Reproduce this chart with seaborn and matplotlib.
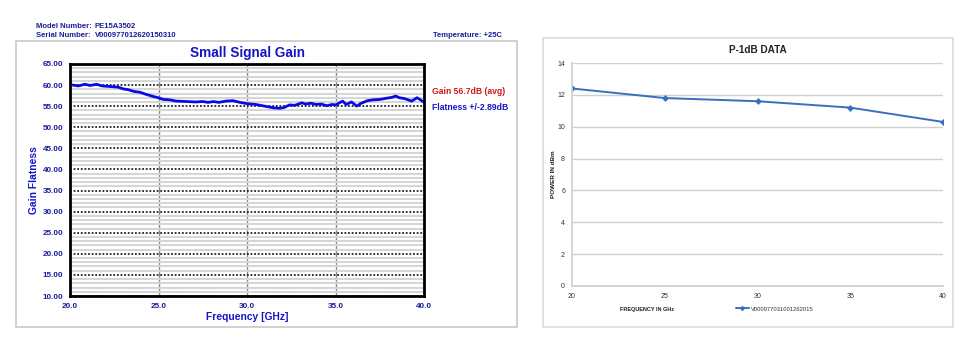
import numpy as np
import pandas as pd
import matplotlib
matplotlib.use("Agg")
import matplotlib.pyplot as plt
from matplotlib.patches import Rectangle
from matplotlib.ticker import MultipleLocator
import seaborn as sns

# ---- data: Small Signal Gain ----
gain_freq = [20.0, 20.47, 20.85, 21.13, 21.5, 21.8, 22.45, 22.73, 23.0, 23.3,
             23.6, 23.95, 24.3, 24.7, 24.98, 25.26, 25.64, 26.0, 26.6, 27.1,
             27.5, 27.8, 28.1, 28.4, 28.8, 29.2, 29.6, 30.0, 30.5, 31.0,
             31.5, 31.85, 32.1, 32.4, 32.7, 33.1, 33.3, 33.6, 33.9, 34.2,
             34.5, 34.8, 35.0, 35.4, 35.6, 35.9, 36.2, 36.4, 36.8, 37.1,
             37.5, 37.9, 38.2, 38.4, 38.6, 38.9, 39.1, 39.3, 39.6, 39.8, 40.0]
gain_db = [60.1, 59.8, 60.2, 59.9, 60.2, 59.8, 59.6, 59.5, 59.1, 58.9,
           58.5, 58.3, 57.8, 57.3, 57.0, 56.6, 56.5, 56.2, 56.1, 56.0,
           56.1, 55.9, 56.1, 55.9, 56.2, 56.3, 55.9, 55.6, 55.4, 55.0,
           54.6, 54.5, 54.7, 55.3, 55.2, 55.8, 55.5, 55.7, 55.4, 55.5,
           55.1, 55.4, 55.3, 56.2, 55.4, 56.0, 55.0, 55.6, 56.3, 56.5,
           56.6, 56.9, 57.1, 57.4, 57.0, 56.8, 56.5, 56.2, 57.0, 56.5, 55.9]
gain_yticks = [10, 15, 20, 25, 30, 35, 40, 45, 50, 55, 60, 65]
gain_xticks = [20, 25, 30, 35, 40]

# ---- data: P-1dB ----
p1db_freq = [20, 25, 30, 35, 40]
p1db_dbm = [12.4, 11.8, 11.6, 11.2, 10.3]
p1db_series = "V000977031001262015"

sns.set_theme(style="white")
plt.rcParams['font.family'] = ['Liberation Sans', 'DejaVu Sans']

BLUE = "#1515c8"
DBLUE = "#1c1c9c"

fig = plt.figure(figsize=(9.7, 3.64), dpi=100)
fig.patch.set_facecolor("white")

# outer frames
fig.add_artist(Rectangle((0.0165, 0.1016), 0.5165, 0.7857, transform=fig.transFigure,
                         fill=False, edgecolor="#c8c8c8", linewidth=1.2))
fig.add_artist(Rectangle((0.5598, 0.1016), 0.4227, 0.794, transform=fig.transFigure,
                         fill=False, edgecolor="#dcdcdc", linewidth=1.2))

# ---------- left chart ----------
ax1 = fig.add_axes([0.0722, 0.1868, 0.365, 0.6374])
df1 = pd.DataFrame({"freq": gain_freq, "gain": gain_db})
ax1.set_xlim(20, 40)
ax1.set_ylim(10, 65)
ax1.yaxis.set_minor_locator(MultipleLocator(1))
ax1.set_yticks(gain_yticks)
ax1.set_xticks(gain_xticks)
ax1.grid(which="minor", axis="y", color="#d6d6d6", linewidth=1.5, linestyle="-")
ax1.grid(which="major", axis="y", color="#222222", linewidth=1.3, linestyle=(0, (1, 1)))
ax1.grid(which="major", axis="x", color="#8c8c8c", linewidth=1.0, linestyle="-")
ax1.set_axisbelow(True)
sns.lineplot(data=df1, x="freq", y="gain", ax=ax1, color="#0a0ae6", linewidth=2.0)
for s in ax1.spines.values():
    s.set_color("black")
    s.set_linewidth(2)
ax1.set_yticklabels([f"{v:.2f}" for v in gain_yticks])
ax1.set_xticklabels([f"{v:.1f}" for v in gain_xticks])
ax1.tick_params(axis="both", which="both", length=0, labelsize=5.9, labelcolor=DBLUE, pad=5)
for lbl in ax1.get_xticklabels() + ax1.get_yticklabels():
    lbl.set_fontweight("bold")
ax1.set_xlabel("Frequency [GHz]", color=BLUE, fontsize=7.4, fontweight="bold", labelpad=1.5)
ax1.set_ylabel("Gain Flatness", color=BLUE, fontsize=7.4, fontweight="bold", labelpad=2.5)
ax1.set_title("Small Signal Gain", color=BLUE, fontsize=9.8, fontweight="bold", pad=5)

fig.text(36/970, 1 - 27/364, "Model Number:", color=DBLUE, fontsize=5.5, fontweight="bold", va="center")
fig.text(95/970, 1 - 27/364, "PE15A3502", color=DBLUE, fontsize=5.5, fontweight="bold", va="center")
fig.text(36/970, 1 - 35.5/364, "Serial Number:", color=DBLUE, fontsize=5.5, fontweight="bold", va="center")
fig.text(95/970, 1 - 35.5/364, "V000977012620150310", color=DBLUE, fontsize=5.5, fontweight="bold", va="center")
fig.text(502/970, 1 - 35.5/364, "Temperature: +25C", color=DBLUE, fontsize=5.5, fontweight="bold",
         va="center", ha="right")
fig.text(432/970, 1 - 92/364, "Gain 56.7dB (avg)", color="#d01818", fontsize=6.2, fontweight="bold", va="center")
fig.text(432/970, 1 - 107/364, "Flatness +/-2.89dB", color=BLUE, fontsize=6.2, fontweight="bold", va="center")

# ---------- right chart ----------
ax2 = fig.add_axes([0.5897, 0.2143, 0.3825, 0.6126])
df2 = pd.DataFrame({"freq": p1db_freq, "power": p1db_dbm, "series": p1db_series})
sns.lineplot(data=df2, x="freq", y="power", hue="series", palette=["#3a6fbf"], ax=ax2,
             marker="D", markersize=3.5, markeredgewidth=0, linewidth=1.4)
ax2.set_xlim(20, 40)
ax2.set_ylim(0, 14)
ax2.set_xticks(p1db_freq)
ax2.set_yticks([0, 2, 4, 6, 8, 10, 12, 14])
ax2.grid(axis="y", color="#d0d0d0", linewidth=1.0)
ax2.set_axisbelow(True)
for k in ["top", "right"]:
    ax2.spines[k].set_visible(False)
ax2.spines["left"].set_color("#d0d0d0")
ax2.spines["bottom"].set_color("#d0d0d0")
ax2.tick_params(axis="both", length=0, labelsize=5, labelcolor="#333333", pad=5)
ax2.set_xlabel("")
ax2.set_ylabel("POWER IN dBm", fontsize=4.6, fontweight="bold", color="#222222", labelpad=1)
ax2.set_title("P-1dB DATA", fontsize=7.2, fontweight="bold", color="#222222", pad=7)
fig.text(647/970, 1 - 309/364, "FREQUENCY IN GHz", fontsize=4, fontweight="bold",
         color="#222222", ha="center", va="center")
leg = ax2.legend(loc="center", bbox_to_anchor=(775/970, 1 - 309/364), bbox_transform=fig.transFigure,
                 frameon=False, fontsize=4.2, handlelength=2.2, markerscale=0.8, handletextpad=0.4)
for t in leg.get_texts():
    t.set_color("#333333")

fig.savefig("out.png", dpi=100, facecolor="white")
